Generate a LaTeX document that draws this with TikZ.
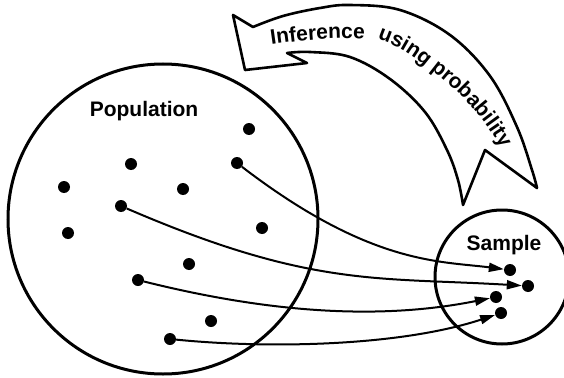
\documentclass[tikz,border=0pt]{standalone}
\usepackage{fontspec}
\newfontfamily\lab{Liberation Sans}
\usetikzlibrary{arrows.meta,decorations.text}
\tikzset{
  dot/.style={circle,fill=black,inner sep=0pt,minimum size=12pt},
  ring/.style={draw=black,line width=3pt},
  conn/.style={draw=black,line width=2pt,-{Triangle[length=15pt,width=9pt]}},
  band/.style={draw=black,line width=2.6pt,line join=round,fill=white},
  lbl/.style={font=\lab\bfseries\fontsize{21}{25}\selectfont,inner sep=0pt,anchor=base},
  arctext/.style={decorate,decoration={text along path,text align=center,
     text={|\lab\bfseries\fontsize{21}{25}\selectfont|#1}}}
}
\begin{document}
\begin{tikzpicture}[x=1pt,y=-1pt]
\clip (0,0) rectangle (564,377);
\fill[white] (0,0) rectangle (564,377);
% circles
\node[ring,circle,minimum size=310pt,inner sep=0pt] (pop) at (163,219) {};
\node[ring,circle,minimum size=134pt,inner sep=0pt] (samp) at (502,277) {};
\node[lbl] (poplabel) at (144,117) {Population};
\node[lbl] (samplabel) at (504,250) {Sample};
% population dots
\node[dot] (p1) at (249,129) {};
\node[dot] (p2) at (131,164) {};
\node[dot] (p3) at (237,163) {};
\node[dot] (p4) at (64,187) {};
\node[dot] (p5) at (183,189) {};
\node[dot] (p6) at (121,206) {};
\node[dot] (p7) at (68,233) {};
\node[dot] (p8) at (262,228) {};
\node[dot] (p9) at (189,264) {};
\node[dot] (p10) at (138,280) {};
\node[dot] (p11) at (211,321) {};
\node[dot] (p12) at (170,339) {};
% sample dots
\node[dot] (s1) at (510,270) {};
\node[dot] (s2) at (528,286) {};
\node[dot] (s3) at (496,297) {};
\node[dot] (s4) at (501,313) {};
% connectors
\draw[conn] (p3) .. controls (370,265) and (440,261) .. (s1);
\draw[conn] (p6) .. controls (311,288) and (378,277) .. (s2);
\draw[conn] (p10) .. controls (278,315) and (386,319) .. (s3);
\draw[conn] (p12) .. controls (270,349) and (401,346) .. (s4);
% big curved arrow band
\draw[band] (233,15) -- plot[smooth,tension=0.6] coordinates {(253,27) (283,16) (320,8) (350,5) (400,10) (450,35) (490,76) (517,127) (532,170) (537,188)}
  -- (485,150) -- plot[smooth,tension=0.6] coordinates {(463,205) (458,180) (447,150) (425,112) (390,79) (350,57) (310,52) (287,53)}
  -- (307,63) -- (245,70) -- cycle;
\path[arctext={Inference}] (262,46) .. controls (300,40) and (340,36) .. (374,40);
\path[arctext={using}] (370,37) .. controls (393,43) and (413,55) .. (431,72);
\path[arctext={probability}] (419,61) .. controls (456,87) and (485,116) .. (508,161);
\end{tikzpicture}
\end{document}
